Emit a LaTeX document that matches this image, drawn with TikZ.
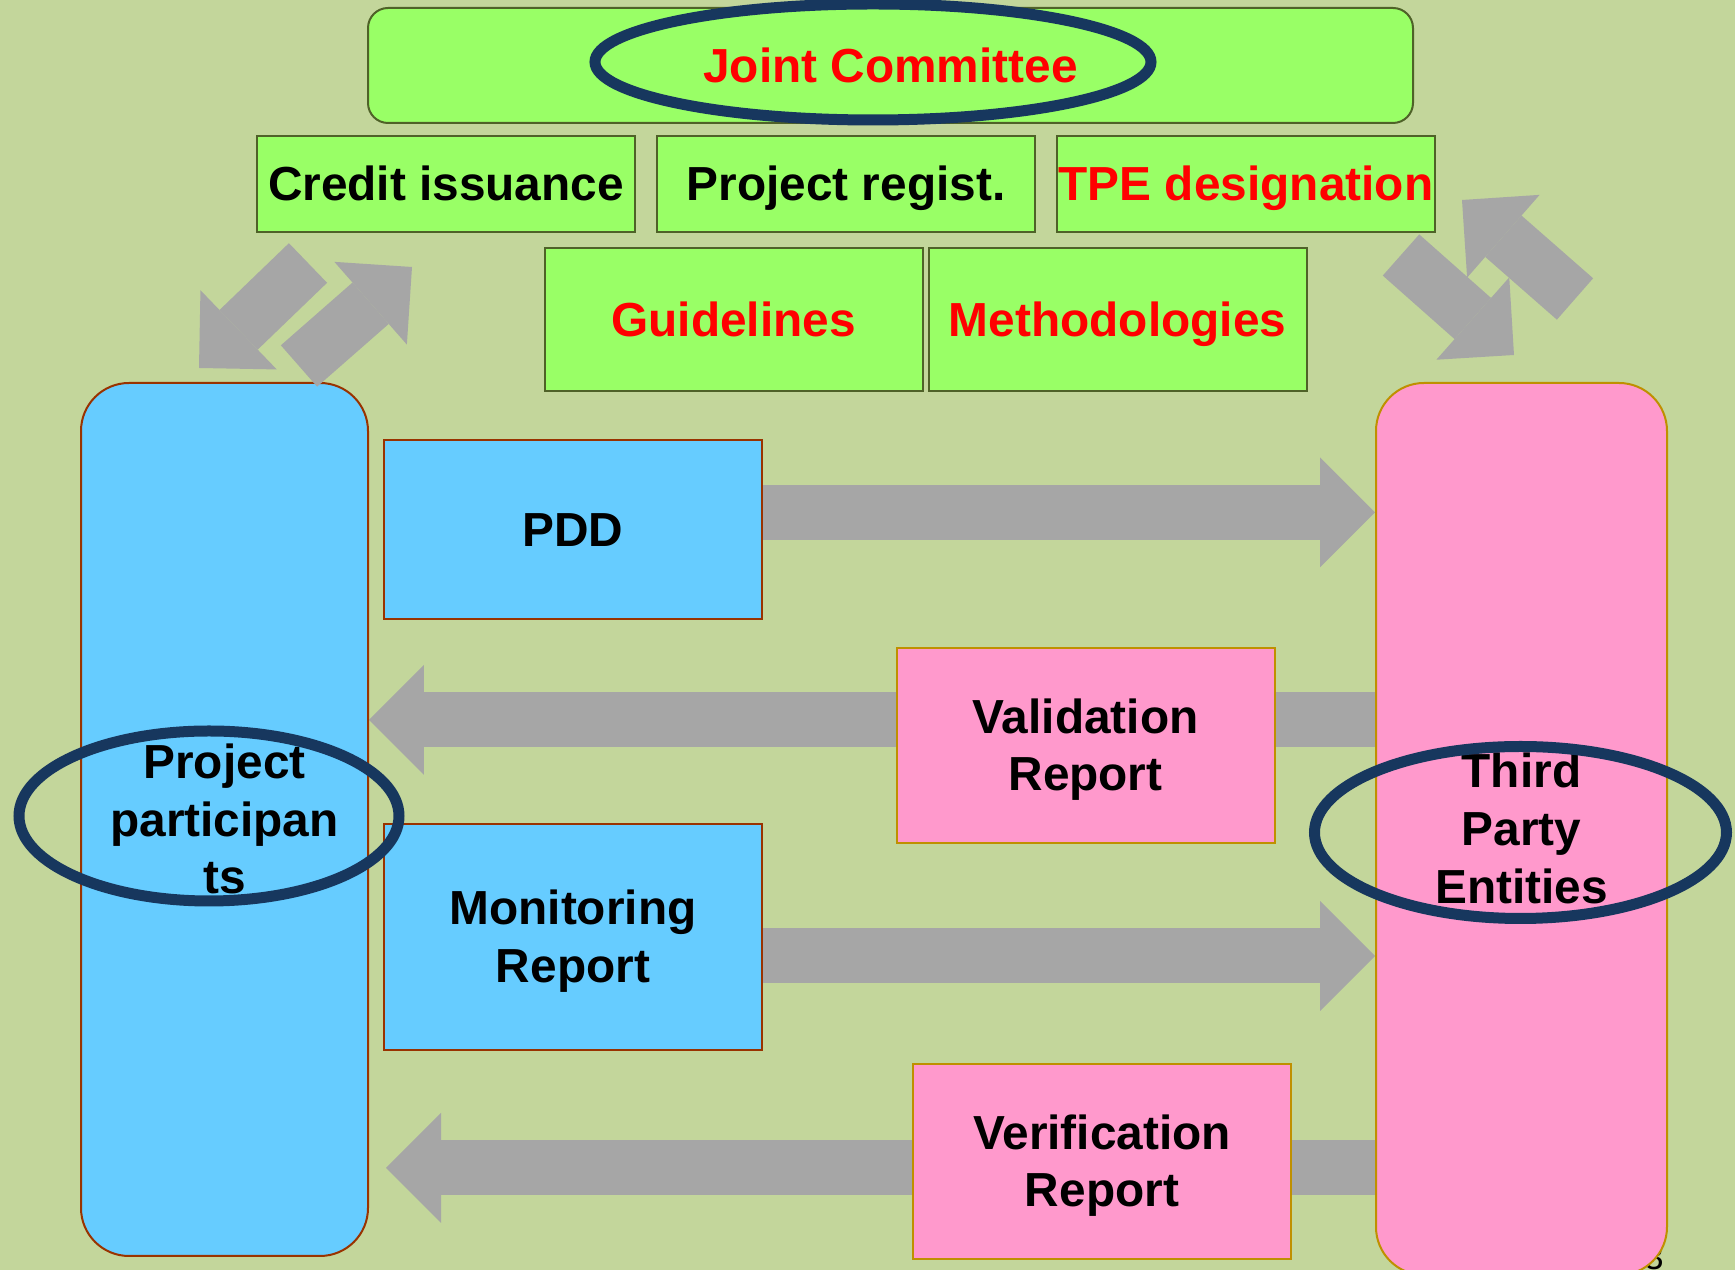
\documentclass[tikz,border=0pt]{standalone}
\usepackage{fontspec}
\setmainfont{Liberation Sans}
\usepackage{tikz}
\usetikzlibrary{arrows.meta,calc}
\tikzset{>={Triangle[length=5.5mm,width=11mm,line width=0pt]}}
\newcommand{\tall}{\rule{0pt}{12.3pt}}
\definecolor{paper}{HTML}{C3D69B}
\definecolor{gfill}{HTML}{99FF66}
\definecolor{gedge}{HTML}{4F6228}
\definecolor{bfill}{HTML}{66CCFF}
\definecolor{bedge}{HTML}{993300}
\definecolor{pfill}{HTML}{FF99CC}
\definecolor{pedge}{HTML}{BF9000}
\definecolor{shaft}{HTML}{A6A6A6}
\definecolor{navy}{HTML}{17375E}
\pgfdeclarelayer{paper}
\pgfdeclarelayer{back}
\pgfsetlayers{paper,back,main}

\begin{document}
\begin{tikzpicture}[x=0.1mm, y=-0.1mm, font=\bfseries\fontsize{13.6}{16.4}\selectfont,
  box/.style = {draw, line width=0.2mm, inner sep=0pt, align=center,
    execute at begin node={\tall}, execute at end node={\rule[-2.9pt]{0pt}{2.9pt}}},
  gbox/.style = {box, draw=gedge, fill=gfill, minimum width=37.8mm, minimum height=9.6mm},
  bbox/.style = {box, draw=bedge, fill=bfill, minimum width=37.8mm},
  pbox/.style = {box, draw=pedge, fill=pfill, minimum width=37.8mm, minimum height=19.5mm},
  arr/.style = {->, line width=5.5mm, draw=shaft},
  ring/.style = {draw=navy, line width=1.1mm}]
\useasboundingbox (0,0) rectangle (1735,1270);
\begin{pgfonlayer}{paper}
\fill[paper] (0,0) rectangle (1735,1270);
\end{pgfonlayer}
\node[font=\fontsize{10}{12}\selectfont] (pg) at (1654,1257) {3};
\node[gbox, minimum width=104.5mm, minimum height=11.5mm, rounded corners=2mm, text=red] (jc) at (890.5,65.5) {Joint Committee};
\node[gbox] (ci) at (446,184) {Credit issuance};
\node[gbox] (pr) at (846,184) {Project regist.};
\node[gbox, text=red] (tpe) at (1246,184) {TPE designation};
\node[gbox, minimum height=14.3mm, text=red] (gl) at (733.5,319.5) {Guidelines};
\node[gbox, minimum height=14.3mm, text=red] (me) at (1117.5,319.5) {Methodologies};
\node[bbox, minimum width=28.7mm, minimum height=87.3mm, rounded corners=4.8mm] (pp) at (224.5,819.5) {\tall Project\\participan\\ts};
\node[pbox, minimum width=29.1mm, minimum height=89.2mm, rounded corners=4.8mm] (tp) at (1521.5,829) {\tall Third\\Party\\Entities};
\node[bbox, minimum height=17.9mm] (pdd) at (573,529.5) {PDD};
\node[pbox] (vr) at (1085.5,745.5) {\tall Validation\\Report};
\node[bbox, minimum height=22.6mm] (mr) at (573,937) {\tall Monitoring\\Report};
\node[pbox] (ver) at (1102,1161.5) {\tall Verification\\Report};
\coordinate (a1) at (308,263);
\coordinate (a2) at (199,368);
\coordinate (b1) at (299,366);
\coordinate (b2) at (412,267);
\coordinate (c1) at (1401,255);
\coordinate (c2) at (1514,355);
\coordinate (d1) at (1575,299);
\coordinate (d2) at (1462,200);
\begin{pgfonlayer}{back}
\draw[arr] ($(pdd.east)+(0,-17)$) -- ($(pdd.east -| tp.west)+(0,-17)$);
\draw[arr] ($(vr.east -| tp.west)+(0,-25.5)$) -- ($(vr.east -| pp.east)+(0,-25.5)$);
\draw[arr] ($(mr.east)+(0,19)$) -- ($(mr.east -| tp.west)+(0,19)$);
\draw[arr] ($(ver.east -| tp.west)+(0,6.5)$) -- ($(ver.east -| pp.east)+(17,6.5)$);
\end{pgfonlayer}
\draw[arr] (a1) -- (a2);
\draw[arr] (b1) -- (b2);
\draw[arr] (c1) -- (c2);
\draw[arr] (d1) -- (d2);
\draw[ring] (873,62) ellipse [x radius=27.8mm, y radius=5.8mm];
\draw[ring] (209,816) ellipse [x radius=19mm, y radius=8.5mm];
\draw[ring] (1520.5,832.5) ellipse [x radius=20.6mm, y radius=8.6mm];
\end{tikzpicture}
\end{document}
